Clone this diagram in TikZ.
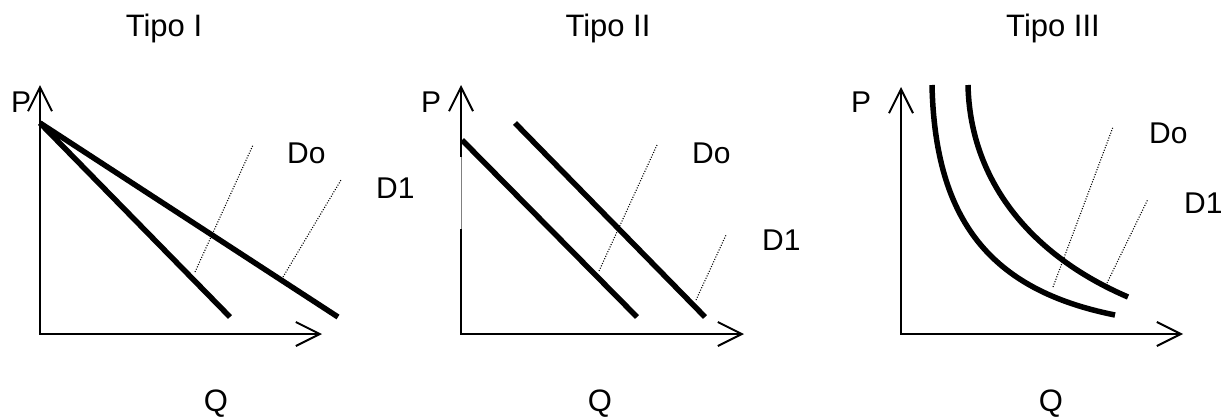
\documentclass[tikz,border=0pt]{standalone}
\usepackage{fontspec}
\setmainfont{Liberation Sans}
\usetikzlibrary{arrows.meta}
\begin{document}
\begin{tikzpicture}[x=1pt,y=-1pt,
  axis/.style={line width=2pt, line join=miter,
    arrows={Straight Barb[length=24pt,width=24pt]-Straight Barb[length=24pt,width=24pt]}},
  demand/.style={line width=5.5pt},
  guide/.style={line width=1.1pt, dash pattern=on 1pt off 1.6pt},
  title/.style={font=\fontsize{31}{36}\selectfont, anchor=base, inner sep=0pt},
  lbl/.style={font=\fontsize{30}{34}\selectfont, anchor=base west, inner sep=0pt},
  plbl/.style={font=\fontsize{30}{34}\selectfont, anchor=base west, inner sep=0pt}]
\useasboundingbox (0,0) rectangle (1224,418);

% ---------- Panel I ----------
\node[title] (t1) at (164,36) {Tipo I};
\node[title] (q1) at (216,411) {Q};
\node[plbl] (p1) at (11,112) {P};
\node[lbl] (do1) at (287,163) {Do};
\node[lbl] (d11) at (376,198) {D1};
\coordinate (o1) at (40,334);
\coordinate (y1) at (40,85);
\coordinate (x1) at (322,334);
\draw[axis] (y1) -- (o1) -- (x1);
\coordinate (a1s) at (40,123);
\coordinate (a1e) at (230,317);
\coordinate (b1e) at (338,317);
\draw[demand] (a1s) -- (a1e);
\draw[demand] (a1s) -- (b1e);
\coordinate (g11s) at (195,272);
\coordinate (g11e) at (253,145);
\coordinate (g12s) at (283,277);
\coordinate (g12e) at (341,180);
\draw[guide] (g11s) -- (g11e);
\draw[guide] (g12s) -- (g12e);

% ---------- Panel II ----------
\node[title] (t2) at (608,36) {Tipo II};
\node[title] (q2) at (600,411) {Q};
\node[plbl] (p2) at (421,112) {P};
\node[lbl] (do2) at (692,163) {Do};
\node[lbl] (d12) at (762,250) {D1};
\coordinate (o2) at (461,334);
\coordinate (y2) at (461,85);
\coordinate (x2) at (744,334);
\draw[axis] (y2) -- (o2) -- (x2);
\coordinate (gap1) at (461,157);
\coordinate (gap2) at (461,229);
\draw[white, line width=2.6pt] (gap1) -- (gap2);
\draw[gray, line width=0.8pt] (gap1) -- (gap2);
\coordinate (a2s) at (462,140);
\coordinate (a2e) at (637,317);
\coordinate (b2s) at (515,123);
\coordinate (b2e) at (705,317);
\draw[demand] (a2s) -- (a2e);
\draw[demand] (b2s) -- (b2e);
\coordinate (g21s) at (599,271);
\coordinate (g21e) at (657,145);
\coordinate (g22s) at (696,300);
\coordinate (g22e) at (726,235);
\draw[guide] (g21s) -- (g21e);
\draw[guide] (g22s) -- (g22e);

% ---------- Panel III ----------
\node[title] (t3) at (1053,36) {Tipo III};
\node[title] (q3) at (1051,411) {Q};
\node[plbl] (p3) at (851,112) {P};
\node[lbl] (do3) at (1149,143) {Do};
\node[lbl] (d13) at (1184,213) {D1};
\coordinate (o3) at (901,334);
\coordinate (y3) at (901,87);
\coordinate (x3) at (1183,334);
\draw[axis] (y3) -- (o3) -- (x3);
\coordinate (a3s) at (932,85);
\coordinate (a3e) at (1115,315);
\coordinate (b3s) at (968,85);
\coordinate (b3e) at (1128,297);
\draw[demand] (a3s) .. controls (935,220) and (990,290) .. (a3e);
\draw[demand] (b3s) .. controls (970,180) and (1030,255) .. (b3e);
\coordinate (g31s) at (1053,287);
\coordinate (g31e) at (1113,127);
\coordinate (g32s) at (1107,283);
\coordinate (g32e) at (1148,199);
\draw[guide] (g31s) -- (g31e);
\draw[guide] (g32s) -- (g32e);
\end{tikzpicture}
\end{document}
